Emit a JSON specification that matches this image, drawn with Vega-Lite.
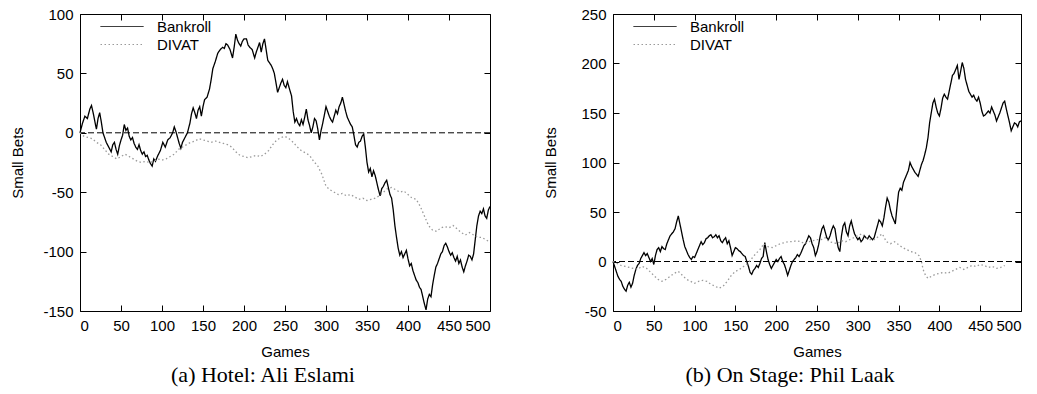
{
  "$schema": "https://vega.github.io/schema/vega-lite/v6.json",
  "padding": {"left": 9, "top": 6, "right": 5, "bottom": 5},
  "spacing": 48,
  "datasets": {
    "a": [
      {"game":0,"value":0,"series":"Bankroll"},{"game":3,"value":8,"series":"Bankroll"},{"game":6,"value":14,"series":"Bankroll"},{"game":9,"value":12,"series":"Bankroll"},{"game":12,"value":20,"series":"Bankroll"},{"game":14,"value":23,"series":"Bankroll"},{"game":16,"value":17,"series":"Bankroll"},{"game":18,"value":10,"series":"Bankroll"},{"game":20,"value":3,"series":"Bankroll"},{"game":22,"value":12,"series":"Bankroll"},{"game":24,"value":17,"series":"Bankroll"},{"game":26,"value":9,"series":"Bankroll"},{"game":28,"value":0,"series":"Bankroll"},{"game":30,"value":-4,"series":"Bankroll"},{"game":32,"value":-8,"series":"Bankroll"},{"game":35,"value":-12,"series":"Bankroll"},{"game":38,"value":-16,"series":"Bankroll"},{"game":40,"value":-10,"series":"Bankroll"},{"game":42,"value":-8,"series":"Bankroll"},{"game":44,"value":-14,"series":"Bankroll"},{"game":46,"value":-18,"series":"Bankroll"},{"game":48,"value":-11,"series":"Bankroll"},{"game":50,"value":-6,"series":"Bankroll"},{"game":52,"value":-2,"series":"Bankroll"},{"game":54,"value":7,"series":"Bankroll"},{"game":56,"value":2,"series":"Bankroll"},{"game":58,"value":4,"series":"Bankroll"},{"game":60,"value":-3,"series":"Bankroll"},{"game":62,"value":-6,"series":"Bankroll"},{"game":64,"value":-4,"series":"Bankroll"},{"game":66,"value":-9,"series":"Bankroll"},{"game":68,"value":-12,"series":"Bankroll"},{"game":70,"value":-14,"series":"Bankroll"},{"game":72,"value":-10,"series":"Bankroll"},{"game":74,"value":-15,"series":"Bankroll"},{"game":76,"value":-18,"series":"Bankroll"},{"game":78,"value":-16,"series":"Bankroll"},{"game":80,"value":-20,"series":"Bankroll"},{"game":82,"value":-19,"series":"Bankroll"},{"game":84,"value":-23,"series":"Bankroll"},{"game":86,"value":-26,"series":"Bankroll"},{"game":88,"value":-28,"series":"Bankroll"},{"game":90,"value":-22,"series":"Bankroll"},{"game":92,"value":-24,"series":"Bankroll"},{"game":95,"value":-19,"series":"Bankroll"},{"game":98,"value":-15,"series":"Bankroll"},{"game":101,"value":-8,"series":"Bankroll"},{"game":104,"value":-12,"series":"Bankroll"},{"game":107,"value":-6,"series":"Bankroll"},{"game":110,"value":-4,"series":"Bankroll"},{"game":113,"value":0,"series":"Bankroll"},{"game":115,"value":5,"series":"Bankroll"},{"game":117,"value":1,"series":"Bankroll"},{"game":119,"value":-4,"series":"Bankroll"},{"game":121,"value":-9,"series":"Bankroll"},{"game":123,"value":-13,"series":"Bankroll"},{"game":125,"value":-8,"series":"Bankroll"},{"game":128,"value":-4,"series":"Bankroll"},{"game":131,"value":0,"series":"Bankroll"},{"game":134,"value":8,"series":"Bankroll"},{"game":136,"value":16,"series":"Bankroll"},{"game":138,"value":21,"series":"Bankroll"},{"game":140,"value":17,"series":"Bankroll"},{"game":142,"value":12,"series":"Bankroll"},{"game":144,"value":19,"series":"Bankroll"},{"game":146,"value":22,"series":"Bankroll"},{"game":148,"value":14,"series":"Bankroll"},{"game":150,"value":22,"series":"Bankroll"},{"game":152,"value":28,"series":"Bankroll"},{"game":155,"value":30,"series":"Bankroll"},{"game":158,"value":37,"series":"Bankroll"},{"game":160,"value":45,"series":"Bankroll"},{"game":162,"value":54,"series":"Bankroll"},{"game":165,"value":60,"series":"Bankroll"},{"game":168,"value":67,"series":"Bankroll"},{"game":171,"value":70,"series":"Bankroll"},{"game":174,"value":72,"series":"Bankroll"},{"game":176,"value":71,"series":"Bankroll"},{"game":178,"value":75,"series":"Bankroll"},{"game":180,"value":74,"series":"Bankroll"},{"game":183,"value":70,"series":"Bankroll"},{"game":186,"value":63,"series":"Bankroll"},{"game":188,"value":72,"series":"Bankroll"},{"game":190,"value":83,"series":"Bankroll"},{"game":192,"value":78,"series":"Bankroll"},{"game":194,"value":75,"series":"Bankroll"},{"game":196,"value":73,"series":"Bankroll"},{"game":198,"value":77,"series":"Bankroll"},{"game":200,"value":79,"series":"Bankroll"},{"game":203,"value":79,"series":"Bankroll"},{"game":205,"value":74,"series":"Bankroll"},{"game":207,"value":72,"series":"Bankroll"},{"game":210,"value":70,"series":"Bankroll"},{"game":213,"value":63,"series":"Bankroll"},{"game":215,"value":68,"series":"Bankroll"},{"game":217,"value":72,"series":"Bankroll"},{"game":219,"value":76,"series":"Bankroll"},{"game":221,"value":68,"series":"Bankroll"},{"game":223,"value":75,"series":"Bankroll"},{"game":225,"value":79,"series":"Bankroll"},{"game":227,"value":70,"series":"Bankroll"},{"game":229,"value":61,"series":"Bankroll"},{"game":231,"value":59,"series":"Bankroll"},{"game":233,"value":57,"series":"Bankroll"},{"game":235,"value":54,"series":"Bankroll"},{"game":237,"value":50,"series":"Bankroll"},{"game":239,"value":42,"series":"Bankroll"},{"game":241,"value":34,"series":"Bankroll"},{"game":243,"value":38,"series":"Bankroll"},{"game":245,"value":42,"series":"Bankroll"},{"game":247,"value":45,"series":"Bankroll"},{"game":249,"value":40,"series":"Bankroll"},{"game":251,"value":38,"series":"Bankroll"},{"game":253,"value":43,"series":"Bankroll"},{"game":255,"value":38,"series":"Bankroll"},{"game":258,"value":31,"series":"Bankroll"},{"game":260,"value":18,"series":"Bankroll"},{"game":262,"value":9,"series":"Bankroll"},{"game":264,"value":12,"series":"Bankroll"},{"game":266,"value":8,"series":"Bankroll"},{"game":268,"value":6,"series":"Bankroll"},{"game":270,"value":11,"series":"Bankroll"},{"game":272,"value":7,"series":"Bankroll"},{"game":274,"value":13,"series":"Bankroll"},{"game":276,"value":20,"series":"Bankroll"},{"game":278,"value":11,"series":"Bankroll"},{"game":280,"value":6,"series":"Bankroll"},{"game":282,"value":0,"series":"Bankroll"},{"game":284,"value":5,"series":"Bankroll"},{"game":286,"value":12,"series":"Bankroll"},{"game":288,"value":10,"series":"Bankroll"},{"game":290,"value":3,"series":"Bankroll"},{"game":292,"value":-6,"series":"Bankroll"},{"game":294,"value":2,"series":"Bankroll"},{"game":296,"value":8,"series":"Bankroll"},{"game":298,"value":15,"series":"Bankroll"},{"game":300,"value":22,"series":"Bankroll"},{"game":302,"value":18,"series":"Bankroll"},{"game":304,"value":14,"series":"Bankroll"},{"game":306,"value":11,"series":"Bankroll"},{"game":308,"value":9,"series":"Bankroll"},{"game":310,"value":14,"series":"Bankroll"},{"game":312,"value":19,"series":"Bankroll"},{"game":314,"value":16,"series":"Bankroll"},{"game":316,"value":22,"series":"Bankroll"},{"game":318,"value":25,"series":"Bankroll"},{"game":320,"value":30,"series":"Bankroll"},{"game":322,"value":24,"series":"Bankroll"},{"game":324,"value":18,"series":"Bankroll"},{"game":326,"value":13,"series":"Bankroll"},{"game":328,"value":10,"series":"Bankroll"},{"game":330,"value":7,"series":"Bankroll"},{"game":332,"value":5,"series":"Bankroll"},{"game":334,"value":-2,"series":"Bankroll"},{"game":336,"value":-10,"series":"Bankroll"},{"game":338,"value":-12,"series":"Bankroll"},{"game":340,"value":-8,"series":"Bankroll"},{"game":342,"value":-7,"series":"Bankroll"},{"game":344,"value":-3,"series":"Bankroll"},{"game":346,"value":-1,"series":"Bankroll"},{"game":348,"value":-12,"series":"Bankroll"},{"game":350,"value":-25,"series":"Bankroll"},{"game":352,"value":-33,"series":"Bankroll"},{"game":354,"value":-30,"series":"Bankroll"},{"game":356,"value":-37,"series":"Bankroll"},{"game":358,"value":-32,"series":"Bankroll"},{"game":360,"value":-36,"series":"Bankroll"},{"game":362,"value":-42,"series":"Bankroll"},{"game":364,"value":-48,"series":"Bankroll"},{"game":366,"value":-53,"series":"Bankroll"},{"game":368,"value":-47,"series":"Bankroll"},{"game":370,"value":-45,"series":"Bankroll"},{"game":372,"value":-42,"series":"Bankroll"},{"game":374,"value":-40,"series":"Bankroll"},{"game":376,"value":-46,"series":"Bankroll"},{"game":378,"value":-52,"series":"Bankroll"},{"game":380,"value":-55,"series":"Bankroll"},{"game":382,"value":-65,"series":"Bankroll"},{"game":384,"value":-78,"series":"Bankroll"},{"game":386,"value":-88,"series":"Bankroll"},{"game":388,"value":-97,"series":"Bankroll"},{"game":390,"value":-103,"series":"Bankroll"},{"game":392,"value":-100,"series":"Bankroll"},{"game":394,"value":-105,"series":"Bankroll"},{"game":396,"value":-102,"series":"Bankroll"},{"game":398,"value":-99,"series":"Bankroll"},{"game":400,"value":-106,"series":"Bankroll"},{"game":402,"value":-112,"series":"Bankroll"},{"game":404,"value":-110,"series":"Bankroll"},{"game":406,"value":-116,"series":"Bankroll"},{"game":408,"value":-120,"series":"Bankroll"},{"game":410,"value":-124,"series":"Bankroll"},{"game":412,"value":-126,"series":"Bankroll"},{"game":414,"value":-130,"series":"Bankroll"},{"game":416,"value":-132,"series":"Bankroll"},{"game":418,"value":-138,"series":"Bankroll"},{"game":420,"value":-144,"series":"Bankroll"},{"game":422,"value":-149,"series":"Bankroll"},{"game":424,"value":-140,"series":"Bankroll"},{"game":426,"value":-136,"series":"Bankroll"},{"game":428,"value":-138,"series":"Bankroll"},{"game":430,"value":-128,"series":"Bankroll"},{"game":432,"value":-120,"series":"Bankroll"},{"game":434,"value":-113,"series":"Bankroll"},{"game":436,"value":-110,"series":"Bankroll"},{"game":438,"value":-106,"series":"Bankroll"},{"game":440,"value":-102,"series":"Bankroll"},{"game":442,"value":-100,"series":"Bankroll"},{"game":444,"value":-95,"series":"Bankroll"},{"game":446,"value":-93,"series":"Bankroll"},{"game":448,"value":-96,"series":"Bankroll"},{"game":450,"value":-100,"series":"Bankroll"},{"game":452,"value":-103,"series":"Bankroll"},{"game":454,"value":-101,"series":"Bankroll"},{"game":456,"value":-105,"series":"Bankroll"},{"game":458,"value":-108,"series":"Bankroll"},{"game":460,"value":-104,"series":"Bankroll"},{"game":462,"value":-110,"series":"Bankroll"},{"game":464,"value":-107,"series":"Bankroll"},{"game":466,"value":-113,"series":"Bankroll"},{"game":468,"value":-117,"series":"Bankroll"},{"game":470,"value":-112,"series":"Bankroll"},{"game":472,"value":-108,"series":"Bankroll"},{"game":474,"value":-103,"series":"Bankroll"},{"game":476,"value":-104,"series":"Bankroll"},{"game":478,"value":-107,"series":"Bankroll"},{"game":480,"value":-102,"series":"Bankroll"},{"game":482,"value":-90,"series":"Bankroll"},{"game":484,"value":-78,"series":"Bankroll"},{"game":486,"value":-70,"series":"Bankroll"},{"game":488,"value":-66,"series":"Bankroll"},{"game":490,"value":-68,"series":"Bankroll"},{"game":492,"value":-64,"series":"Bankroll"},{"game":494,"value":-70,"series":"Bankroll"},{"game":496,"value":-72,"series":"Bankroll"},{"game":498,"value":-65,"series":"Bankroll"},{"game":500,"value":-62,"series":"Bankroll"},
      {"game":0,"value":0,"series":"DIVAT"},{"game":5,"value":-3,"series":"DIVAT"},{"game":10,"value":-4,"series":"DIVAT"},{"game":15,"value":-5,"series":"DIVAT"},{"game":20,"value":-8,"series":"DIVAT"},{"game":25,"value":-10,"series":"DIVAT"},{"game":30,"value":-14,"series":"DIVAT"},{"game":35,"value":-18,"series":"DIVAT"},{"game":40,"value":-20,"series":"DIVAT"},{"game":45,"value":-22,"series":"DIVAT"},{"game":50,"value":-20,"series":"DIVAT"},{"game":55,"value":-18,"series":"DIVAT"},{"game":60,"value":-20,"series":"DIVAT"},{"game":65,"value":-22,"series":"DIVAT"},{"game":70,"value":-24,"series":"DIVAT"},{"game":75,"value":-25,"series":"DIVAT"},{"game":80,"value":-24,"series":"DIVAT"},{"game":85,"value":-25,"series":"DIVAT"},{"game":90,"value":-24,"series":"DIVAT"},{"game":95,"value":-22,"series":"DIVAT"},{"game":100,"value":-23,"series":"DIVAT"},{"game":105,"value":-22,"series":"DIVAT"},{"game":110,"value":-20,"series":"DIVAT"},{"game":115,"value":-18,"series":"DIVAT"},{"game":120,"value":-14,"series":"DIVAT"},{"game":125,"value":-12,"series":"DIVAT"},{"game":130,"value":-10,"series":"DIVAT"},{"game":135,"value":-8,"series":"DIVAT"},{"game":140,"value":-7,"series":"DIVAT"},{"game":145,"value":-5,"series":"DIVAT"},{"game":150,"value":-6,"series":"DIVAT"},{"game":155,"value":-7,"series":"DIVAT"},{"game":160,"value":-8,"series":"DIVAT"},{"game":165,"value":-7,"series":"DIVAT"},{"game":170,"value":-8,"series":"DIVAT"},{"game":175,"value":-9,"series":"DIVAT"},{"game":180,"value":-10,"series":"DIVAT"},{"game":185,"value":-12,"series":"DIVAT"},{"game":190,"value":-16,"series":"DIVAT"},{"game":195,"value":-19,"series":"DIVAT"},{"game":200,"value":-20,"series":"DIVAT"},{"game":205,"value":-21,"series":"DIVAT"},{"game":210,"value":-20,"series":"DIVAT"},{"game":215,"value":-19,"series":"DIVAT"},{"game":220,"value":-20,"series":"DIVAT"},{"game":225,"value":-18,"series":"DIVAT"},{"game":230,"value":-15,"series":"DIVAT"},{"game":235,"value":-10,"series":"DIVAT"},{"game":240,"value":-6,"series":"DIVAT"},{"game":245,"value":-4,"series":"DIVAT"},{"game":250,"value":-3,"series":"DIVAT"},{"game":255,"value":-5,"series":"DIVAT"},{"game":260,"value":-8,"series":"DIVAT"},{"game":265,"value":-12,"series":"DIVAT"},{"game":270,"value":-15,"series":"DIVAT"},{"game":275,"value":-17,"series":"DIVAT"},{"game":280,"value":-19,"series":"DIVAT"},{"game":285,"value":-24,"series":"DIVAT"},{"game":290,"value":-28,"series":"DIVAT"},{"game":295,"value":-35,"series":"DIVAT"},{"game":300,"value":-45,"series":"DIVAT"},{"game":305,"value":-48,"series":"DIVAT"},{"game":310,"value":-50,"series":"DIVAT"},{"game":315,"value":-52,"series":"DIVAT"},{"game":320,"value":-51,"series":"DIVAT"},{"game":325,"value":-53,"series":"DIVAT"},{"game":330,"value":-52,"series":"DIVAT"},{"game":335,"value":-54,"series":"DIVAT"},{"game":340,"value":-56,"series":"DIVAT"},{"game":345,"value":-55,"series":"DIVAT"},{"game":350,"value":-57,"series":"DIVAT"},{"game":355,"value":-56,"series":"DIVAT"},{"game":360,"value":-55,"series":"DIVAT"},{"game":365,"value":-53,"series":"DIVAT"},{"game":370,"value":-50,"series":"DIVAT"},{"game":375,"value":-47,"series":"DIVAT"},{"game":380,"value":-46,"series":"DIVAT"},{"game":385,"value":-48,"series":"DIVAT"},{"game":390,"value":-50,"series":"DIVAT"},{"game":395,"value":-49,"series":"DIVAT"},{"game":400,"value":-52,"series":"DIVAT"},{"game":405,"value":-55,"series":"DIVAT"},{"game":410,"value":-56,"series":"DIVAT"},{"game":415,"value":-62,"series":"DIVAT"},{"game":420,"value":-70,"series":"DIVAT"},{"game":425,"value":-78,"series":"DIVAT"},{"game":430,"value":-82,"series":"DIVAT"},{"game":435,"value":-83,"series":"DIVAT"},{"game":440,"value":-80,"series":"DIVAT"},{"game":445,"value":-79,"series":"DIVAT"},{"game":450,"value":-80,"series":"DIVAT"},{"game":455,"value":-78,"series":"DIVAT"},{"game":460,"value":-81,"series":"DIVAT"},{"game":465,"value":-84,"series":"DIVAT"},{"game":470,"value":-86,"series":"DIVAT"},{"game":475,"value":-84,"series":"DIVAT"},{"game":480,"value":-86,"series":"DIVAT"},{"game":485,"value":-88,"series":"DIVAT"},{"game":490,"value":-88,"series":"DIVAT"},{"game":495,"value":-90,"series":"DIVAT"},{"game":500,"value":-92,"series":"DIVAT"}
    ],
    "b": [
      {"game":0,"value":0,"series":"Bankroll"},{"game":2,"value":-5,"series":"Bankroll"},{"game":4,"value":-10,"series":"Bankroll"},{"game":6,"value":-15,"series":"Bankroll"},{"game":8,"value":-18,"series":"Bankroll"},{"game":10,"value":-20,"series":"Bankroll"},{"game":12,"value":-25,"series":"Bankroll"},{"game":14,"value":-28,"series":"Bankroll"},{"game":16,"value":-30,"series":"Bankroll"},{"game":18,"value":-24,"series":"Bankroll"},{"game":20,"value":-21,"series":"Bankroll"},{"game":22,"value":-26,"series":"Bankroll"},{"game":24,"value":-22,"series":"Bankroll"},{"game":26,"value":-14,"series":"Bankroll"},{"game":28,"value":-8,"series":"Bankroll"},{"game":30,"value":-4,"series":"Bankroll"},{"game":32,"value":-2,"series":"Bankroll"},{"game":34,"value":3,"series":"Bankroll"},{"game":36,"value":6,"series":"Bankroll"},{"game":38,"value":9,"series":"Bankroll"},{"game":40,"value":6,"series":"Bankroll"},{"game":42,"value":8,"series":"Bankroll"},{"game":44,"value":4,"series":"Bankroll"},{"game":46,"value":0,"series":"Bankroll"},{"game":48,"value":3,"series":"Bankroll"},{"game":50,"value":-3,"series":"Bankroll"},{"game":52,"value":6,"series":"Bankroll"},{"game":54,"value":12,"series":"Bankroll"},{"game":56,"value":14,"series":"Bankroll"},{"game":58,"value":10,"series":"Bankroll"},{"game":60,"value":15,"series":"Bankroll"},{"game":62,"value":13,"series":"Bankroll"},{"game":64,"value":12,"series":"Bankroll"},{"game":66,"value":18,"series":"Bankroll"},{"game":68,"value":22,"series":"Bankroll"},{"game":70,"value":26,"series":"Bankroll"},{"game":72,"value":28,"series":"Bankroll"},{"game":74,"value":30,"series":"Bankroll"},{"game":76,"value":33,"series":"Bankroll"},{"game":78,"value":40,"series":"Bankroll"},{"game":80,"value":46,"series":"Bankroll"},{"game":82,"value":38,"series":"Bankroll"},{"game":84,"value":30,"series":"Bankroll"},{"game":86,"value":22,"series":"Bankroll"},{"game":88,"value":15,"series":"Bankroll"},{"game":90,"value":11,"series":"Bankroll"},{"game":92,"value":7,"series":"Bankroll"},{"game":94,"value":4,"series":"Bankroll"},{"game":96,"value":2,"series":"Bankroll"},{"game":98,"value":5,"series":"Bankroll"},{"game":100,"value":4,"series":"Bankroll"},{"game":102,"value":8,"series":"Bankroll"},{"game":104,"value":12,"series":"Bankroll"},{"game":106,"value":16,"series":"Bankroll"},{"game":108,"value":20,"series":"Bankroll"},{"game":110,"value":17,"series":"Bankroll"},{"game":112,"value":19,"series":"Bankroll"},{"game":114,"value":23,"series":"Bankroll"},{"game":116,"value":24,"series":"Bankroll"},{"game":118,"value":26,"series":"Bankroll"},{"game":120,"value":27,"series":"Bankroll"},{"game":122,"value":24,"series":"Bankroll"},{"game":124,"value":25,"series":"Bankroll"},{"game":126,"value":27,"series":"Bankroll"},{"game":128,"value":24,"series":"Bankroll"},{"game":130,"value":26,"series":"Bankroll"},{"game":132,"value":21,"series":"Bankroll"},{"game":134,"value":19,"series":"Bankroll"},{"game":136,"value":22,"series":"Bankroll"},{"game":138,"value":24,"series":"Bankroll"},{"game":140,"value":18,"series":"Bankroll"},{"game":142,"value":21,"series":"Bankroll"},{"game":144,"value":14,"series":"Bankroll"},{"game":146,"value":6,"series":"Bankroll"},{"game":148,"value":10,"series":"Bankroll"},{"game":150,"value":14,"series":"Bankroll"},{"game":152,"value":13,"series":"Bankroll"},{"game":154,"value":11,"series":"Bankroll"},{"game":156,"value":10,"series":"Bankroll"},{"game":158,"value":8,"series":"Bankroll"},{"game":160,"value":6,"series":"Bankroll"},{"game":162,"value":5,"series":"Bankroll"},{"game":164,"value":0,"series":"Bankroll"},{"game":166,"value":-5,"series":"Bankroll"},{"game":168,"value":-11,"series":"Bankroll"},{"game":170,"value":-13,"series":"Bankroll"},{"game":172,"value":-9,"series":"Bankroll"},{"game":174,"value":-7,"series":"Bankroll"},{"game":176,"value":-4,"series":"Bankroll"},{"game":178,"value":-6,"series":"Bankroll"},{"game":180,"value":-2,"series":"Bankroll"},{"game":182,"value":3,"series":"Bankroll"},{"game":184,"value":5,"series":"Bankroll"},{"game":186,"value":19,"series":"Bankroll"},{"game":188,"value":10,"series":"Bankroll"},{"game":190,"value":2,"series":"Bankroll"},{"game":192,"value":-3,"series":"Bankroll"},{"game":194,"value":-7,"series":"Bankroll"},{"game":196,"value":-4,"series":"Bankroll"},{"game":198,"value":-1,"series":"Bankroll"},{"game":200,"value":2,"series":"Bankroll"},{"game":202,"value":0,"series":"Bankroll"},{"game":204,"value":3,"series":"Bankroll"},{"game":206,"value":5,"series":"Bankroll"},{"game":208,"value":0,"series":"Bankroll"},{"game":210,"value":-3,"series":"Bankroll"},{"game":212,"value":-8,"series":"Bankroll"},{"game":214,"value":-14,"series":"Bankroll"},{"game":216,"value":-9,"series":"Bankroll"},{"game":218,"value":-4,"series":"Bankroll"},{"game":220,"value":0,"series":"Bankroll"},{"game":222,"value":2,"series":"Bankroll"},{"game":224,"value":4,"series":"Bankroll"},{"game":226,"value":7,"series":"Bankroll"},{"game":228,"value":5,"series":"Bankroll"},{"game":230,"value":8,"series":"Bankroll"},{"game":232,"value":12,"series":"Bankroll"},{"game":234,"value":16,"series":"Bankroll"},{"game":236,"value":18,"series":"Bankroll"},{"game":238,"value":22,"series":"Bankroll"},{"game":240,"value":26,"series":"Bankroll"},{"game":242,"value":24,"series":"Bankroll"},{"game":244,"value":18,"series":"Bankroll"},{"game":246,"value":14,"series":"Bankroll"},{"game":248,"value":6,"series":"Bankroll"},{"game":250,"value":10,"series":"Bankroll"},{"game":252,"value":17,"series":"Bankroll"},{"game":254,"value":26,"series":"Bankroll"},{"game":256,"value":33,"series":"Bankroll"},{"game":258,"value":36,"series":"Bankroll"},{"game":260,"value":30,"series":"Bankroll"},{"game":262,"value":24,"series":"Bankroll"},{"game":264,"value":22,"series":"Bankroll"},{"game":266,"value":26,"series":"Bankroll"},{"game":268,"value":32,"series":"Bankroll"},{"game":270,"value":36,"series":"Bankroll"},{"game":272,"value":33,"series":"Bankroll"},{"game":274,"value":22,"series":"Bankroll"},{"game":276,"value":14,"series":"Bankroll"},{"game":278,"value":10,"series":"Bankroll"},{"game":280,"value":26,"series":"Bankroll"},{"game":282,"value":36,"series":"Bankroll"},{"game":284,"value":39,"series":"Bankroll"},{"game":286,"value":30,"series":"Bankroll"},{"game":288,"value":26,"series":"Bankroll"},{"game":290,"value":36,"series":"Bankroll"},{"game":292,"value":41,"series":"Bankroll"},{"game":294,"value":34,"series":"Bankroll"},{"game":296,"value":28,"series":"Bankroll"},{"game":298,"value":25,"series":"Bankroll"},{"game":300,"value":22,"series":"Bankroll"},{"game":302,"value":24,"series":"Bankroll"},{"game":304,"value":20,"series":"Bankroll"},{"game":306,"value":22,"series":"Bankroll"},{"game":308,"value":26,"series":"Bankroll"},{"game":310,"value":24,"series":"Bankroll"},{"game":312,"value":23,"series":"Bankroll"},{"game":314,"value":26,"series":"Bankroll"},{"game":316,"value":24,"series":"Bankroll"},{"game":318,"value":22,"series":"Bankroll"},{"game":320,"value":24,"series":"Bankroll"},{"game":322,"value":30,"series":"Bankroll"},{"game":324,"value":36,"series":"Bankroll"},{"game":326,"value":42,"series":"Bankroll"},{"game":328,"value":40,"series":"Bankroll"},{"game":330,"value":36,"series":"Bankroll"},{"game":332,"value":44,"series":"Bankroll"},{"game":334,"value":55,"series":"Bankroll"},{"game":336,"value":64,"series":"Bankroll"},{"game":338,"value":60,"series":"Bankroll"},{"game":340,"value":52,"series":"Bankroll"},{"game":342,"value":46,"series":"Bankroll"},{"game":344,"value":42,"series":"Bankroll"},{"game":346,"value":38,"series":"Bankroll"},{"game":348,"value":55,"series":"Bankroll"},{"game":350,"value":70,"series":"Bankroll"},{"game":352,"value":74,"series":"Bankroll"},{"game":354,"value":72,"series":"Bankroll"},{"game":356,"value":80,"series":"Bankroll"},{"game":358,"value":84,"series":"Bankroll"},{"game":360,"value":88,"series":"Bankroll"},{"game":362,"value":92,"series":"Bankroll"},{"game":364,"value":100,"series":"Bankroll"},{"game":366,"value":96,"series":"Bankroll"},{"game":368,"value":93,"series":"Bankroll"},{"game":370,"value":90,"series":"Bankroll"},{"game":372,"value":88,"series":"Bankroll"},{"game":374,"value":86,"series":"Bankroll"},{"game":376,"value":92,"series":"Bankroll"},{"game":378,"value":98,"series":"Bankroll"},{"game":380,"value":102,"series":"Bankroll"},{"game":382,"value":108,"series":"Bankroll"},{"game":384,"value":115,"series":"Bankroll"},{"game":386,"value":125,"series":"Bankroll"},{"game":388,"value":140,"series":"Bankroll"},{"game":390,"value":150,"series":"Bankroll"},{"game":392,"value":160,"series":"Bankroll"},{"game":394,"value":164,"series":"Bankroll"},{"game":396,"value":156,"series":"Bankroll"},{"game":398,"value":150,"series":"Bankroll"},{"game":400,"value":147,"series":"Bankroll"},{"game":402,"value":155,"series":"Bankroll"},{"game":404,"value":165,"series":"Bankroll"},{"game":406,"value":169,"series":"Bankroll"},{"game":408,"value":166,"series":"Bankroll"},{"game":410,"value":164,"series":"Bankroll"},{"game":412,"value":172,"series":"Bankroll"},{"game":414,"value":180,"series":"Bankroll"},{"game":416,"value":188,"series":"Bankroll"},{"game":418,"value":190,"series":"Bankroll"},{"game":420,"value":194,"series":"Bankroll"},{"game":422,"value":198,"series":"Bankroll"},{"game":424,"value":184,"series":"Bankroll"},{"game":426,"value":192,"series":"Bankroll"},{"game":428,"value":201,"series":"Bankroll"},{"game":430,"value":195,"series":"Bankroll"},{"game":432,"value":184,"series":"Bankroll"},{"game":434,"value":178,"series":"Bankroll"},{"game":436,"value":172,"series":"Bankroll"},{"game":438,"value":169,"series":"Bankroll"},{"game":440,"value":166,"series":"Bankroll"},{"game":442,"value":168,"series":"Bankroll"},{"game":444,"value":164,"series":"Bankroll"},{"game":446,"value":162,"series":"Bankroll"},{"game":448,"value":166,"series":"Bankroll"},{"game":450,"value":160,"series":"Bankroll"},{"game":452,"value":152,"series":"Bankroll"},{"game":454,"value":147,"series":"Bankroll"},{"game":456,"value":148,"series":"Bankroll"},{"game":458,"value":150,"series":"Bankroll"},{"game":460,"value":152,"series":"Bankroll"},{"game":462,"value":150,"series":"Bankroll"},{"game":464,"value":156,"series":"Bankroll"},{"game":466,"value":152,"series":"Bankroll"},{"game":468,"value":148,"series":"Bankroll"},{"game":470,"value":142,"series":"Bankroll"},{"game":472,"value":146,"series":"Bankroll"},{"game":474,"value":150,"series":"Bankroll"},{"game":476,"value":155,"series":"Bankroll"},{"game":478,"value":160,"series":"Bankroll"},{"game":480,"value":162,"series":"Bankroll"},{"game":482,"value":154,"series":"Bankroll"},{"game":484,"value":147,"series":"Bankroll"},{"game":486,"value":140,"series":"Bankroll"},{"game":488,"value":132,"series":"Bankroll"},{"game":490,"value":136,"series":"Bankroll"},{"game":492,"value":140,"series":"Bankroll"},{"game":494,"value":139,"series":"Bankroll"},{"game":496,"value":136,"series":"Bankroll"},{"game":498,"value":141,"series":"Bankroll"},{"game":500,"value":142,"series":"Bankroll"},
      {"game":0,"value":0,"series":"DIVAT"},{"game":5,"value":-2,"series":"DIVAT"},{"game":10,"value":-4,"series":"DIVAT"},{"game":15,"value":-5,"series":"DIVAT"},{"game":20,"value":-6,"series":"DIVAT"},{"game":25,"value":-7,"series":"DIVAT"},{"game":30,"value":-8,"series":"DIVAT"},{"game":35,"value":-5,"series":"DIVAT"},{"game":40,"value":-6,"series":"DIVAT"},{"game":45,"value":-10,"series":"DIVAT"},{"game":50,"value":-14,"series":"DIVAT"},{"game":55,"value":-18,"series":"DIVAT"},{"game":60,"value":-20,"series":"DIVAT"},{"game":65,"value":-18,"series":"DIVAT"},{"game":70,"value":-15,"series":"DIVAT"},{"game":75,"value":-12,"series":"DIVAT"},{"game":80,"value":-10,"series":"DIVAT"},{"game":85,"value":-14,"series":"DIVAT"},{"game":90,"value":-18,"series":"DIVAT"},{"game":95,"value":-20,"series":"DIVAT"},{"game":100,"value":-22,"series":"DIVAT"},{"game":105,"value":-20,"series":"DIVAT"},{"game":110,"value":-19,"series":"DIVAT"},{"game":115,"value":-20,"series":"DIVAT"},{"game":120,"value":-23,"series":"DIVAT"},{"game":125,"value":-25,"series":"DIVAT"},{"game":130,"value":-27,"series":"DIVAT"},{"game":135,"value":-25,"series":"DIVAT"},{"game":140,"value":-20,"series":"DIVAT"},{"game":145,"value":-14,"series":"DIVAT"},{"game":150,"value":-10,"series":"DIVAT"},{"game":155,"value":-8,"series":"DIVAT"},{"game":160,"value":-5,"series":"DIVAT"},{"game":165,"value":-2,"series":"DIVAT"},{"game":170,"value":3,"series":"DIVAT"},{"game":175,"value":8,"series":"DIVAT"},{"game":180,"value":12,"series":"DIVAT"},{"game":185,"value":18,"series":"DIVAT"},{"game":190,"value":15,"series":"DIVAT"},{"game":195,"value":14,"series":"DIVAT"},{"game":200,"value":16,"series":"DIVAT"},{"game":205,"value":18,"series":"DIVAT"},{"game":210,"value":19,"series":"DIVAT"},{"game":215,"value":20,"series":"DIVAT"},{"game":220,"value":20,"series":"DIVAT"},{"game":225,"value":21,"series":"DIVAT"},{"game":230,"value":20,"series":"DIVAT"},{"game":235,"value":18,"series":"DIVAT"},{"game":240,"value":20,"series":"DIVAT"},{"game":245,"value":21,"series":"DIVAT"},{"game":250,"value":22,"series":"DIVAT"},{"game":255,"value":22,"series":"DIVAT"},{"game":260,"value":24,"series":"DIVAT"},{"game":265,"value":20,"series":"DIVAT"},{"game":270,"value":19,"series":"DIVAT"},{"game":275,"value":18,"series":"DIVAT"},{"game":280,"value":21,"series":"DIVAT"},{"game":285,"value":20,"series":"DIVAT"},{"game":290,"value":22,"series":"DIVAT"},{"game":295,"value":24,"series":"DIVAT"},{"game":300,"value":26,"series":"DIVAT"},{"game":305,"value":28,"series":"DIVAT"},{"game":310,"value":24,"series":"DIVAT"},{"game":315,"value":22,"series":"DIVAT"},{"game":320,"value":22,"series":"DIVAT"},{"game":325,"value":25,"series":"DIVAT"},{"game":330,"value":28,"series":"DIVAT"},{"game":335,"value":20,"series":"DIVAT"},{"game":340,"value":18,"series":"DIVAT"},{"game":345,"value":20,"series":"DIVAT"},{"game":350,"value":17,"series":"DIVAT"},{"game":355,"value":14,"series":"DIVAT"},{"game":360,"value":12,"series":"DIVAT"},{"game":365,"value":10,"series":"DIVAT"},{"game":370,"value":9,"series":"DIVAT"},{"game":375,"value":6,"series":"DIVAT"},{"game":378,"value":0,"series":"DIVAT"},{"game":380,"value":-8,"series":"DIVAT"},{"game":383,"value":-14,"series":"DIVAT"},{"game":386,"value":-17,"series":"DIVAT"},{"game":390,"value":-15,"series":"DIVAT"},{"game":395,"value":-13,"series":"DIVAT"},{"game":400,"value":-12,"series":"DIVAT"},{"game":405,"value":-11,"series":"DIVAT"},{"game":410,"value":-12,"series":"DIVAT"},{"game":415,"value":-10,"series":"DIVAT"},{"game":420,"value":-8,"series":"DIVAT"},{"game":425,"value":-6,"series":"DIVAT"},{"game":430,"value":-8,"series":"DIVAT"},{"game":435,"value":-6,"series":"DIVAT"},{"game":440,"value":-4,"series":"DIVAT"},{"game":445,"value":-5,"series":"DIVAT"},{"game":450,"value":-3,"series":"DIVAT"},{"game":455,"value":-4,"series":"DIVAT"},{"game":460,"value":-6,"series":"DIVAT"},{"game":465,"value":-5,"series":"DIVAT"},{"game":470,"value":-7,"series":"DIVAT"},{"game":475,"value":-6,"series":"DIVAT"},{"game":480,"value":-4,"series":"DIVAT"}
    ]
  },
  "hconcat": [
    {
      "width": 410,
      "height": 297,
      "title": {"text": "(a) Hotel: Ali Eslami", "orient": "bottom", "anchor": "middle", "frame": "group", "dx": -22, "offset": 6, "font": "Liberation Serif", "fontSize": 22, "fontWeight": "normal", "color": "black"},
      "resolve": {"axis": {"x": "independent", "y": "independent"}},
      "layer": [
        {
          "data": {"values": [{"level": 0}]},
          "mark": {"type": "rule", "color": "black", "strokeWidth": 1, "strokeDash": [6, 3]},
          "encoding": {"y": {"field": "level", "type": "quantitative", "scale": {"domain": [-150, 100], "nice": false}, "axis": null}}
        },
        {
          "data": {"name": "a"},
          "mark": {"type": "line", "strokeWidth": 1.3},
          "encoding": {
            "x": {"field": "game", "type": "quantitative", "scale": {"domain": [0, 500], "nice": false},
                  "axis": {"orient": "bottom", "title": "Games", "values": [0,50,100,150,200,250,300,350,400,450,500], "titleY": 40, "titleBaseline": "middle"}},
            "y": {"field": "value", "type": "quantitative", "scale": {"domain": [-150, 100], "nice": false},
                  "axis": {"orient": "left", "title": "Small Bets", "values": [-150,-100,-50,0,50,100], "labelExpr": "'' + datum.value", "titleX": -63, "titleY": 148.5, "titleAngle": 270, "titleAlign": "center", "titleBaseline": "middle"}},
            "color": {"field": "series", "type": "nominal", "scale": {"domain": ["Bankroll", "DIVAT"], "range": ["#000000", "#9a9a9a"]},
                      "legend": {"title": null, "orient": "none", "legendX": 13, "legendY": 5}},
            "strokeDash": {"field": "series", "type": "nominal", "scale": {"domain": ["Bankroll", "DIVAT"], "range": [[1, 0], [1.5, 2.5]]},
                      "legend": {"title": null, "orient": "none", "legendX": 13, "legendY": 5}}
          }
        },
        {
          "data": {"values": [{"game": 0, "value": 0}]},
          "mark": {"type": "point", "opacity": 0},
          "encoding": {
            "x": {"field": "game", "type": "quantitative", "axis": {"orient": "top", "labels": false, "title": null, "values": [0,50,100,150,200,250,300,350,400,450,500]}},
            "y": {"field": "value", "type": "quantitative", "axis": {"orient": "right", "labels": false, "title": null, "values": [-150,-100,-50,0,50,100]}}
          }
        }
      ]
    },
    {
      "width": 408,
      "height": 297,
      "title": {"text": "(b) On Stage: Phil Laak", "orient": "bottom", "anchor": "middle", "frame": "group", "dx": -27, "offset": 6, "font": "Liberation Serif", "fontSize": 22, "fontWeight": "normal", "color": "black"},
      "resolve": {"axis": {"x": "independent", "y": "independent"}},
      "layer": [
        {
          "data": {"values": [{"level": 0}]},
          "mark": {"type": "rule", "color": "black", "strokeWidth": 1, "strokeDash": [6, 3]},
          "encoding": {"y": {"field": "level", "type": "quantitative", "scale": {"domain": [-50, 250], "nice": false}, "axis": null}}
        },
        {
          "data": {"name": "b"},
          "mark": {"type": "line", "strokeWidth": 1.3},
          "encoding": {
            "x": {"field": "game", "type": "quantitative", "scale": {"domain": [0, 500], "nice": false},
                  "axis": {"orient": "bottom", "title": "Games", "values": [0,50,100,150,200,250,300,350,400,450,500], "titleY": 40, "titleBaseline": "middle"}},
            "y": {"field": "value", "type": "quantitative", "scale": {"domain": [-50, 250], "nice": false},
                  "axis": {"orient": "left", "title": "Small Bets", "values": [-50,0,50,100,150,200,250], "labelExpr": "'' + datum.value", "titleX": -63, "titleY": 148.5, "titleAngle": 270, "titleAlign": "center", "titleBaseline": "middle"}},
            "color": {"field": "series", "type": "nominal", "scale": {"domain": ["Bankroll", "DIVAT"], "range": ["#000000", "#9a9a9a"]},
                      "legend": {"title": null, "orient": "none", "legendX": 13, "legendY": 5}},
            "strokeDash": {"field": "series", "type": "nominal", "scale": {"domain": ["Bankroll", "DIVAT"], "range": [[1, 0], [1.5, 2.5]]},
                      "legend": {"title": null, "orient": "none", "legendX": 13, "legendY": 5}}
          }
        },
        {
          "data": {"values": [{"game": 0, "value": 0}]},
          "mark": {"type": "point", "opacity": 0},
          "encoding": {
            "x": {"field": "game", "type": "quantitative", "axis": {"orient": "top", "labels": false, "title": null, "values": [0,50,100,150,200,250,300,350,400,450,500]}},
            "y": {"field": "value", "type": "quantitative", "axis": {"orient": "right", "labels": false, "title": null, "values": [-50,0,50,100,150,200,250]}}
          }
        }
      ]
    }
  ],
  "resolve": {"scale": {"color": "independent", "strokeDash": "independent"}, "legend": {"color": "independent", "strokeDash": "independent"}},
  "config": {
    "font": "Liberation Sans",
    "view": {"stroke": "#000000", "strokeWidth": 1},
    "axis": {"labelFont": "Liberation Sans", "labelFontSize": 15, "labelColor": "#000000", "titleFont": "Liberation Sans", "titleFontSize": 15, "titleFontWeight": "normal", "titleColor": "#000000", "tickColor": "#000000", "tickSize": -6, "labelPadding": 13, "grid": false, "domain": false},
    "legend": {"labelFont": "Liberation Sans", "labelFontSize": 15, "labelColor": "#000000", "symbolType": "M0,0H8.6", "symbolSize": 100, "symbolStrokeWidth": 1, "labelOffset": 49, "rowPadding": 2, "padding": 0}
  }
}
